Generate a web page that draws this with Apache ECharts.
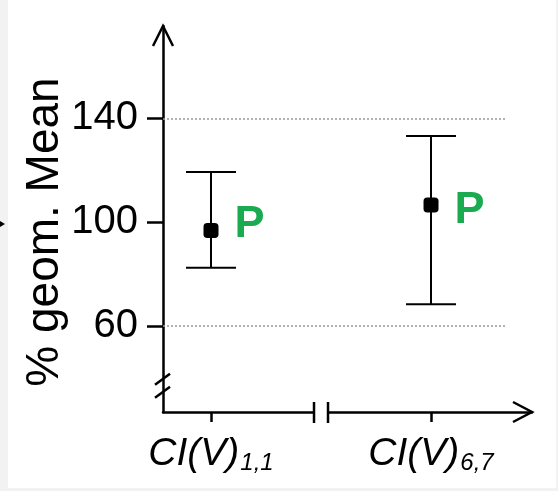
<!DOCTYPE html>
<html>
<head>
    <meta charset="utf-8">
    <title>% geom. Mean</title>
    <script src="https://cdn.jsdelivr.net/npm/echarts@6/dist/echarts.min.js"></script>
    <style type="text/css">
        html, body {
            margin: 0;
            padding: 0;
            background: #fff;
        }

        #main {
            width: 558px;
            height: 491px;
        }
    </style>
</head>
<body>
    <div id="main"></div>
    <script>
        // data
        var catMain = ['CI(V)', 'CI(V)'];
        var catSub = ['1,1', '6,7'];
        var xPos = [1, 2];
        var means = [96.8, 106.6];
        var upper = [119.4, 133.2];
        var lower = [82.5, 68.4];
        var pText = ['P', 'P'];
        var yTicks = [60, 100, 140];
        var gridLines = [60, 140];

        var xMin = 0.7818, xMax = 2.459, xGridEnd = 2.341;
        var yMin = 26.9, yMax = 175.6;
        var yBreak = 37, xBreak = 1.5;

        var font = 'Liberation Sans, Arial, sans-serif';
        var green = '#1aab50';

        var chart = echarts.init(document.getElementById('main'));

        var pointData = [];
        var barData = [];
        for (var i = 0; i < xPos.length; i++) {
            pointData.push({
                value: [xPos[i], means[i]],
                label: { offset: [0, i === 0 ? -6 : 5] }
            });
            barData.push([xPos[i], lower[i], upper[i]]);
        }

        var gridMark = gridLines.map(function (v) {
            return [{ coord: [xMin, v] }, { coord: [xGridEnd, v] }];
        });

        var option = {
            backgroundColor: '#fff',
            animation: false,
            grid: { left: 163, right: 26, top: 26, bottom: 79 },
            xAxis: {
                type: 'value',
                min: xMin,
                max: xMax,
                splitLine: { show: false },
                axisLine: { lineStyle: { color: '#000', width: 2.5 } },
                axisTick: {
                    show: true, customValues: xPos, length: 10,
                    lineStyle: { color: '#000', width: 2.5 }
                },
                axisLabel: {
                    customValues: xPos,
                    margin: 23,
                    formatter: function (v) {
                        var k = xPos.indexOf(v);
                        return '{m|' + catMain[k] + '}{s|' + catSub[k] + '}';
                    },
                    rich: {
                        m: {
                            fontFamily: font, fontSize: 39, fontStyle: 'italic', color: '#000',
                            lineHeight: 40, padding: [0, 0, 1, 0], verticalAlign: 'bottom'
                        },
                        s: {
                            fontFamily: font, fontSize: 24, fontStyle: 'italic', color: '#000',
                            lineHeight: 24, verticalAlign: 'bottom', padding: [0, 0, 0, 1]
                        }
                    }
                }
            },
            yAxis: {
                type: 'value',
                min: yMin,
                max: yMax,
                splitLine: { show: false },
                axisLine: { show: true, lineStyle: { color: '#000', width: 2.5 } },
                axisTick: {
                    show: true, customValues: yTicks, length: 16,
                    lineStyle: { color: '#000', width: 2.5 }
                },
                axisLabel: {
                    customValues: yTicks,
                    margin: 25,
                    fontFamily: font,
                    fontSize: 40,
                    color: '#000'
                }
            },
            series: [
                {
                    type: 'custom',
                    data: barData,
                    z: 2,
                    renderItem: function (params, api) {
                        var x = api.value(0);
                        var lo = api.coord([x, api.value(1)]);
                        var hi = api.coord([x, api.value(2)]);
                        var w = 25;
                        var st = { stroke: '#000', lineWidth: 2 };
                        return {
                            type: 'group',
                            children: [
                                { type: 'line', shape: { x1: hi[0], y1: hi[1], x2: lo[0], y2: lo[1] }, style: st },
                                { type: 'line', shape: { x1: hi[0] - w, y1: hi[1], x2: hi[0] + w, y2: hi[1] }, style: st },
                                { type: 'line', shape: { x1: lo[0] - w, y1: lo[1], x2: lo[0] + w, y2: lo[1] }, style: st }
                            ]
                        };
                    }
                },
                {
                    type: 'scatter',
                    data: pointData,
                    z: 3,
                    symbol: 'roundRect',
                    symbolSize: 15,
                    itemStyle: { color: '#000', opacity: 1 },
                    label: {
                        show: true,
                        position: 'right',
                        distance: 16,
                        formatter: function (p) { return pText[p.dataIndex]; },
                        fontFamily: font,
                        fontSize: 45,
                        fontWeight: 'bold',
                        color: green
                    },
                    emphasis: { disabled: true },
                    markLine: {
                        silent: true,
                        symbol: 'none',
                        label: { show: false },
                        lineStyle: { type: [2, 2], color: '#999', width: 1.5 },
                        data: gridMark
                    }
                }
            ]
        };
        chart.setOption(option);

        // axis decorations: arrows, breaks, title, page edges
        var yTop = chart.convertToPixel({ gridIndex: 0 }, [xMin, yMax]);
        var xEnd = chart.convertToPixel({ gridIndex: 0 }, [xMax, yMin]);
        var yb = chart.convertToPixel({ gridIndex: 0 }, [xMin, yBreak]);
        var xb = chart.convertToPixel({ gridIndex: 0 }, [xBreak, yMin]);
        var st = { stroke: '#000', lineWidth: 2.5, fill: null };

        chart.setOption({
            graphic: [
                { type: 'rect', shape: { x: 0, y: 0, width: 8, height: 491 }, style: { fill: '#f2f2f2' }, silent: true },
                { type: 'rect', shape: { x: 556, y: 0, width: 2, height: 491 }, style: { fill: '#f2f2f2' }, silent: true },
                { type: 'rect', shape: { x: 0, y: 488, width: 558, height: 3 }, style: { fill: '#f2f2f2' }, silent: true },
                { type: 'polygon', shape: { points: [[0, 221], [5, 224], [0, 227]] }, style: { fill: '#000' }, silent: true },
                {
                    type: 'polyline', z: 100,
                    shape: { points: [[yTop[0] - 10, yTop[1] + 20], [yTop[0], yTop[1]], [yTop[0] + 10, yTop[1] + 20]] },
                    style: st
                },
                {
                    type: 'polyline', z: 100,
                    shape: { points: [[xEnd[0] - 19, xEnd[1] - 10], [xEnd[0], xEnd[1]], [xEnd[0] - 19, xEnd[1] + 10]] },
                    style: st
                },
                { type: 'line', z: 100, shape: { x1: yb[0] - 8, y1: yb[1] - 1, x2: yb[0] + 7, y2: yb[1] - 12 }, style: st },
                { type: 'line', z: 100, shape: { x1: yb[0] - 8, y1: yb[1] + 12, x2: yb[0] + 7, y2: yb[1] + 1 }, style: st },
                { type: 'rect', z: 99, shape: { x: xb[0] - 6, y: xb[1] - 5, width: 12, height: 10 }, style: { fill: '#fff' } },
                { type: 'line', z: 100, shape: { x1: xb[0] - 7, y1: xb[1] - 10, x2: xb[0] - 7, y2: xb[1] + 11 }, style: st },
                { type: 'line', z: 100, shape: { x1: xb[0] + 7, y1: xb[1] - 10, x2: xb[0] + 7, y2: xb[1] + 11 }, style: st },
                {
                    type: 'text', z: 100,
                    x: 45, y: 232, rotation: Math.PI / 2,
                    style: {
                        text: '% geom. Mean',
                        fontFamily: font,
                        fontSize: 46,
                        fill: '#000',
                        textAlign: 'center',
                        textVerticalAlign: 'middle'
                    }
                }
            ]
        });

        window.addEventListener('resize', chart.resize);
    </script>
</body>
</html>
